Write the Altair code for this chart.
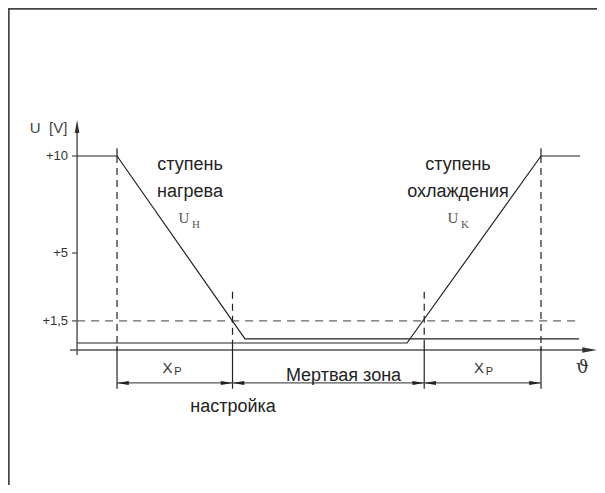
import altair as alt
import pandas as pd

# ---------------- values ----------------
# x: temperature (theta) in units where one proportional band Xp ~ 10
# y: control voltage U in volts
heat_x = [-3.46, 0.0, 11.08, 40.0]          # heating stage U_H
heat_y = [10.0, 10.0, 0.57, 0.57]
cool_x = [-3.46, 25.11, 36.71, 40.1]        # cooling stage U_K
cool_y = [0.36, 0.36, 10.0, 10.0]

ytick_vals = [10.0, 5.0, 1.5]
ytick_labels = ["+10", "+5", "+1,5"]

# Xp start, heating set point, cooling set point, Xp end
bounds = [0.0, 10.0, 26.6, 36.71]
guide_tops = [10.0, 3.0, 3.0, 10.0]

threshold = 1.5

X_DOMAIN = [-9.44, 41.56]
Y_DOMAIN = [-6.96, 17.63]
W, H = 589, 477

xs = alt.Scale(domain=X_DOMAIN, nice=False, zero=False)
ys = alt.Scale(domain=Y_DOMAIN, nice=False, zero=False)


def X(f="x"):
    return alt.X(f"{f}:Q", scale=xs, axis=None)


def Y(f="y"):
    return alt.Y(f"{f}:Q", scale=ys, axis=None)


AX = -3.46      # position of the U axis on the theta scale
DIM_Y = -1.70   # dimension line level
EXT_BOTTOM = -2.0

layers = []

# frame (top and left border)
frame_src = pd.DataFrame({"k": [0]})
layers.append(alt.Chart(frame_src).mark_rule(color="#444", strokeWidth=2.2).encode(
    x=alt.value(0.6), y=alt.value(0), y2=alt.value(H)))
layers.append(alt.Chart(frame_src).mark_rule(color="#444", strokeWidth=2.2).encode(
    x=alt.value(0), x2=alt.value(W), y=alt.value(0.6)))

# axes
yaxis = pd.DataFrame({"x": [AX], "y": [-0.26], "y2": [11.6]})
layers.append(alt.Chart(yaxis).mark_rule(color="#555", strokeWidth=1.5).encode(
    x=X(), y=Y(), y2="y2:Q"))
xaxis = pd.DataFrame({"x": [-4.07], "x2": [40.5], "y": [0.0]})
layers.append(alt.Chart(xaxis).mark_rule(color="#555", strokeWidth=1.5).encode(
    x=X(), x2="x2:Q", y=Y()))

# axis arrowheads
layers.append(alt.Chart(pd.DataFrame({"x": [AX], "y": [11.52]})).mark_point(
    shape="M0,-1L0.36,1L-0.36,1Z", filled=True, color="#333", opacity=1, size=169
).encode(x=X(), y=Y()))
layers.append(alt.Chart(pd.DataFrame({"x": [40.93], "y": [0.0]})).mark_point(
    shape="M1,0L-1,0.36L-1,-0.36Z", filled=True, color="#333", opacity=1, size=225
).encode(x=X(), y=Y()))

# y ticks and labels
ticks = pd.DataFrame({"x": [-3.9] * 3, "x2": [AX] * 3, "y": ytick_vals, "t": ytick_labels})
layers.append(alt.Chart(ticks).mark_rule(color="#555", strokeWidth=1.3).encode(
    x=X(), x2="x2:Q", y=Y()))
ticks["lx"] = -4.24
layers.append(alt.Chart(ticks).mark_text(
    align="right", baseline="middle", font="Liberation Sans", fontSize=13, color="#333"
).encode(x=X("lx"), y=Y(), text="t:N"))

# y axis title
layers.append(alt.Chart(pd.DataFrame({"x": [-4.3], "y": [11.44], "t": ["U\u00a0\u00a0[V]"]})).mark_text(
    align="right", baseline="middle", font="Liberation Sans", fontSize=15, color="#444"
).encode(x=X(), y=Y(), text="t:N"))

# threshold dashed line at +1.5 V
layers.append(alt.Chart(pd.DataFrame({"x": [AX], "x2": [40.0], "y": [threshold]})).mark_rule(
    color="#666", strokeWidth=1.2, strokeDash=[8, 6]
).encode(x=X(), x2="x2:Q", y=Y()))

# vertical guides (dashed) from the curve down to the axis
guides = pd.DataFrame({"x": bounds, "y": guide_tops, "y2": [0.0] * 4})
layers.append(alt.Chart(guides).mark_rule(color="#222", strokeWidth=1.2, strokeDash=[7, 5]).encode(
    x=X(), y=Y(), y2="y2:Q"))
# short solid ticks above the +10 level
tops = pd.DataFrame({"x": [bounds[0], bounds[3]], "y": [10.0, 10.0], "y2": [10.4, 10.4]})
layers.append(alt.Chart(tops).mark_rule(color="#222", strokeWidth=1.2).encode(
    x=X(), y=Y(), y2="y2:Q"))
# extension lines below the axis
ext = pd.DataFrame({"x": bounds, "y": [0.2] * 4, "y2": [EXT_BOTTOM] * 4})
layers.append(alt.Chart(ext).mark_rule(color="#222", strokeWidth=1.2).encode(
    x=X(), y=Y(), y2="y2:Q"))

# curves
curves = pd.DataFrame({
    "x": heat_x + cool_x,
    "y": heat_y + cool_y,
    "s": ["heat"] * 4 + ["cool"] * 4,
    "o": list(range(4)) * 2,
})
layers.append(alt.Chart(curves).mark_line(color="#222", strokeWidth=1.2).encode(
    x=X(), y=Y(), detail="s:N", order="o:Q"))

# dimension line with arrowheads
layers.append(alt.Chart(pd.DataFrame({"x": [bounds[0]], "x2": [bounds[3]], "y": [DIM_Y]})).mark_rule(
    color="#555", strokeWidth=1.3).encode(x=X(), x2="x2:Q", y=Y()))
arr_x, arr_a = [], []
for a, b in zip(bounds[:-1], bounds[1:]):
    arr_x += [a + 0.5, b - 0.5]
    arr_a += [180, 0]
arrows = pd.DataFrame({"x": arr_x, "y": [DIM_Y] * len(arr_x), "a": arr_a})
layers.append(alt.Chart(arrows).mark_point(
    shape="M1,0L-1,0.32L-1,-0.32Z", filled=True, color="#222", opacity=1, size=144
).encode(x=X(), y=Y(), angle=alt.Angle("a:Q", scale=None)))


def text_layer(x, y, t, size, color="#222", font="Liberation Sans", align="center", baseline="middle"):
    df = pd.DataFrame({"x": x, "y": y, "t": t})
    return alt.Chart(df).mark_text(
        align=align, baseline=baseline, font=font, fontSize=size, color=color
    ).encode(x=X(), y=Y(), text="t:N")


# stage labels
layers.append(text_layer([6.32, 6.32, 29.52, 29.52], [9.54, 8.14, 9.54, 8.14],
                         ["ступень", "нагрева", "ступень", "охлаждения"], 18))
layers.append(text_layer([5.80, 29.09], [6.80, 6.80], ["U", "U"], 15,
                         color="#555", font="Liberation Serif"))
layers.append(text_layer([6.84, 30.13], [6.44, 6.44], ["H", "K"], 11,
                         color="#555", font="Liberation Serif"))

# Xp labels
layers.append(text_layer([4.37, 31.34], [-0.93, -0.93], ["X", "X"], 15, color="#333"))
layers.append(text_layer([5.28, 32.25], [-1.13, -1.13], ["P", "P"], 11, color="#333"))

# dead zone, setting, theta
layers.append(text_layer([19.61], [-1.60], ["Мертвая зона"], 18, baseline="alphabetic"))
layers.append(text_layer([10.04], [-3.20], ["настройка"], 18, baseline="alphabetic"))
layers.append(text_layer([40.3], [-0.93], ["ϑ"], 18, color="#333", font="DejaVu Serif"))

chart = alt.layer(*layers).properties(
    width=W, height=H, padding=0, autosize=alt.AutoSizeParams(type="none")
).configure_view(strokeWidth=0).configure(background="white")

chart.save("out.html", embed_options={"renderer": "svg", "actions": False})
